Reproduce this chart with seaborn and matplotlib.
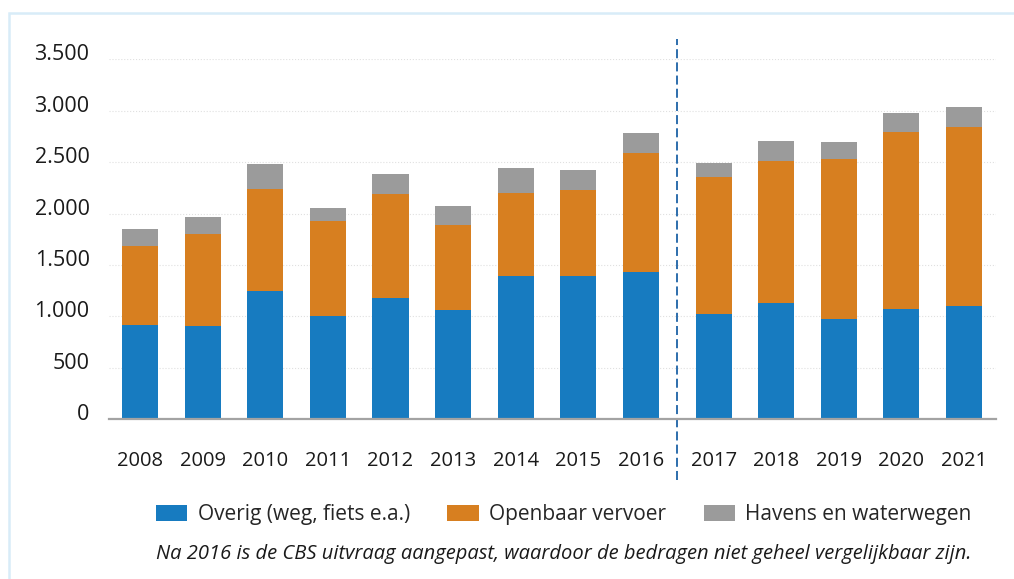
import numpy as np
import pandas as pd
import seaborn as sns
import matplotlib.pyplot as plt
from matplotlib.patches import Patch, Rectangle
from matplotlib.transforms import ScaledTranslation

# values (mln euro)
years = [2008, 2009, 2010, 2011, 2012, 2013, 2014,
         2015, 2016, 2017, 2018, 2019, 2020, 2021]
overig = [917, 907, 1248, 1005, 1180, 1063, 1394,
          1394, 1433, 1024, 1131, 976, 1073, 1102]
openbaar_vervoer = [768, 896, 990, 922, 1008, 826, 806,
                    835, 1153, 1331, 1380, 1555, 1720, 1740]
havens = [165, 165, 242, 123, 196, 185, 243,
          196, 197, 137, 194, 164, 185, 194]

series_names = ['Overig (weg, fiets e.a.)', 'Openbaar vervoer', 'Havens en waterwegen']
colors = ['#177bc0', '#d77f20', '#9b9b9b']
footnote = 'Na 2016 is de CBS uitvraag aangepast, waardoor de bedragen niet geheel vergelijkbaar zijn.'

sns.set_theme(style="white")
plt.rcParams['font.family'] = ['Open Sans', 'DejaVu Sans']

df = pd.DataFrame({'jaar': years, 'overig': overig, 'ov': openbaar_vervoer, 'havens': havens})
# small extra gap after 2016 (break in the CBS series)
df['pos'] = np.arange(len(df)) + np.where(df['jaar'] > 2016, 0.168, 0.0)
df['top_ov'] = df['overig'] + df['ov']
df['top_all'] = df['top_ov'] + df['havens']

fig = plt.figure(figsize=(10.14, 5.79), dpi=100)
ax = fig.add_axes([0.1075, 0.2758, 0.8748, 0.6218])

# stacked bars: draw the cumulative totals on top of each other
for col, c in zip(['top_all', 'top_ov', 'overig'], colors[::-1]):
    sns.barplot(data=df, x='pos', y=col, native_scale=True, width=0.576,
                color=c, saturation=1, linewidth=0, errorbar=None, ax=ax)

ax.set_xlim(-0.5, 13.68)
ax.set_ylim(0, 3500)
ax.set_xticks(df['pos'])
ax.set_xticklabels([str(y) for y in years])
yt = np.arange(0, 3501, 500)
ax.set_yticks(yt)
ax.set_yticklabels([f"{v:,}".replace(',', '.') for v in yt])
ax.set_xlabel('')
ax.set_ylabel('')

ax.yaxis.grid(True, linestyle=':', color='#e0e0e0', linewidth=0.8)
ax.set_axisbelow(True)
for s in ['top', 'right', 'left']:
    ax.spines[s].set_visible(False)
ax.spines['bottom'].set_color('#a3a3a3')
ax.spines['bottom'].set_linewidth(1.6)

ax.tick_params(axis='y', length=0, pad=14, labelsize=15.5, labelcolor='#1a1a1a')
ax.tick_params(axis='x', length=0, pad=23, labelsize=14.5, labelcolor='#1a1a1a')
# labels sit a little above the gridlines in the original
offset = ScaledTranslation(0, 0.07, fig.dpi_scale_trans)
for lab in ax.get_yticklabels():
    lab.set_transform(lab.get_transform() + offset)

# dashed separator between 2016 and 2017
i16 = years.index(2016)
sep = (df['pos'][i16] + df['pos'][i16 + 1]) / 2
ax.axvline(sep, ymin=-0.169, ymax=1.056, clip_on=False, color='#1c62a6',
           linewidth=1.3, dashes=(5, 2.3))

handles = [Patch(facecolor=c, edgecolor='none', label=n) for c, n in zip(colors, series_names)]
fig.legend(handles=handles, loc='center', bbox_to_anchor=(0.556, 0.111), ncol=3,
           frameon=False, fontsize=15, handlelength=1.5, handleheight=0.8,
           handletextpad=0.5, columnspacing=1.8)

fig.text(0.556, 1 - 554 / 579, footnote, ha='center', va='center', style='italic',
         fontsize=14.5, color='#1a1a1a')

# light blue frame around the chart
fig.add_artist(Rectangle((9 / 1014, -0.1), 1.2, 1.1 - 13 / 579, transform=fig.transFigure,
                         fill=False, edgecolor='#d8ecf8', linewidth=1.8))

fig.savefig('out.png', dpi=100)
